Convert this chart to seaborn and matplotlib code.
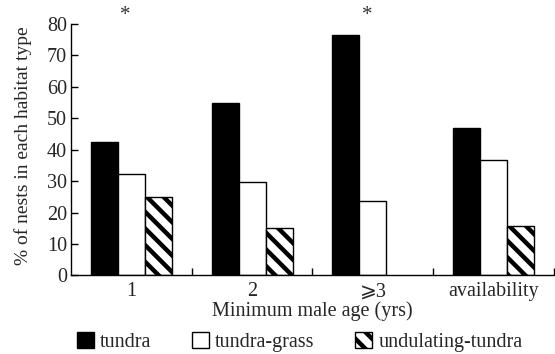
import matplotlib
matplotlib.use("Agg")
import matplotlib.pyplot as plt
from matplotlib.patches import Patch
import seaborn as sns
import pandas as pd

# Nest habitat use by minimum male age, plus habitat availability
groups = ["1", "2", "\u2a7e3", "availability"]
habitats = ["tundra", "tundra-grass", "undulating-tundra"]
tundra = [42.5, 54.8, 76.5, 47.0]
tundra_grass = [32.4, 29.8, 23.6, 36.8]
undulating = [25.0, 15.0, 0.0, 15.8]
significant = ["1", "\u2a7e3"]

df = pd.DataFrame({
    "group": groups * 3,
    "habitat": [h for h in habitats for _ in groups],
    "pct": tundra + tundra_grass + undulating,
})

sns.set_style("white")
plt.rcParams["font.family"] = ["Liberation Serif", "DejaVu Serif", "DejaVu Sans"]
plt.rcParams["hatch.linewidth"] = 3.2
plt.rcParams["hatch.color"] = "black"

FS = 14.5

fig = plt.figure(figsize=(5.55, 3.54), dpi=100)
ax = fig.add_axes([0.128, 0.222, 0.870, 0.710])

fills = {"tundra": "black", "tundra-grass": "white", "undulating-tundra": "white"}
sns.barplot(data=df, x="group", y="pct", hue="habitat", order=groups,
            hue_order=habitats, palette=fills, width=0.67, dodge=True,
            edgecolor="black", linewidth=1.0, saturation=1, ax=ax,
            legend=False)

# diagonal hatch on the undulating-tundra bars
for container, hab in zip(ax.containers, habitats):
    for bar in container:
        if hab == "undulating-tundra":
            bar.set_hatch("\\\\")
        if bar.get_height() == 0:
            bar.set_visible(False)

ax.set_xlim(-0.5, len(groups) - 0.5)
ax.set_ylim(0, 80)
ax.set_yticks(range(0, 81, 10))
ax.tick_params(axis="y", direction="in", length=5, width=1, labelsize=FS,
               left=True, pad=3, color="black")
ax.set_xticks(range(len(groups)))
ax.set_xticklabels(groups)
ax.tick_params(axis="x", which="major", length=0, labelsize=FS, pad=5)
ax.set_xticks([i + 0.5 for i in range(len(groups))], minor=True)
ax.tick_params(axis="x", which="minor", direction="in", length=5, width=1,
               bottom=True, color="black")

for side in ["top", "right"]:
    ax.spines[side].set_visible(False)
for side in ["left", "bottom"]:
    ax.spines[side].set_color("black")
    ax.spines[side].set_linewidth(1.0)

ax.set_xlabel("Minimum male age (yrs)", fontsize=FS, labelpad=0)
ax.set_ylabel("% of nests in each habitat type", fontsize=14)
ax.yaxis.set_label_coords(-0.081, 0.515)

# significance markers above the starred groups
for g in significant:
    i = groups.index(g)
    ax.text(i - 0.05, 82.8, "*", ha="center", va="center", fontsize=15,
            color="#333333", clip_on=False)

handles = [
    Patch(facecolor="black", edgecolor="black", label="tundra"),
    Patch(facecolor="white", edgecolor="black", label="tundra-grass"),
    Patch(facecolor="white", edgecolor="black", hatch="\\\\",
          label="undulating-tundra"),
]
fig.legend(handles=handles, loc="lower left", bbox_to_anchor=(0.138, 0.005),
           ncol=3, frameon=False, fontsize=FS, handlelength=0.85,
           handleheight=0.85, handletextpad=0.3, columnspacing=2.02,
           borderaxespad=0, borderpad=0)

fig.savefig("out.png", dpi=100)
